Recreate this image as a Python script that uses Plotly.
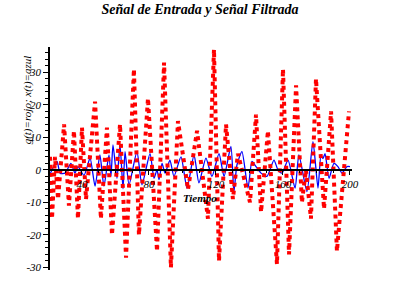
import plotly.graph_objects as go

# Input signal g(t): successive extrema (time, value)
red_t = [20.9, 22.1, 23.9, 25.7, 29.3, 32.2, 35.2, 37.6, 40.0, 42.4, 47.8, 51.3,
         54.9, 57.9, 62.7, 66.3, 71.0, 74.0, 79.4, 84.8, 89.0, 93.1, 97.3, 103.3,
         108.7, 115.2, 118.8, 121.8, 126.0, 130.1, 133.1, 140.3, 143.9, 146.9, 151.0,
         156.4, 160.0, 163.6, 167.8, 171.3, 173.7, 176.7, 179.7, 184.5, 188.7, 192.2, 199.4]
red_v = [4, -15, 4, -9, 14, -11, 12, -15, 13, -9, 21, -15,
         13, -20, 14, -27, 31, -20, 22, -25, 33, -30, 15, -6,
         12, -15, 37, -28, 14, -9, 5, -10, 17, -13, 12,
         -29, 31, -26, 26, -10, 0, -15, 28, -12, 18, -25, 18]

# Filtered signal x(t): extrema
blue_t = [20.3, 25.1, 26.9, 29.9, 33.4, 35.8, 37.6, 41.2, 44.8, 47.8, 50.7, 53.1,
          56.1, 57.3, 58.5, 60.9, 62.7, 64.5, 65.7, 68.1, 72.8, 75.8, 80.6, 83.0,
          84.8, 86.0, 87.8, 89.6, 92.5, 94.9, 99.1, 102.7, 106.9, 109.8, 114.0, 117.6,
          121.8, 124.8, 128.9, 130.7, 132.5, 135.5, 139.1, 141.5, 143.9, 146.9, 150.4,
          154.6, 157.0, 159.4, 163.0, 167.2, 169.5, 174.3, 177.9, 180.9, 182.7, 183.9,
          185.1, 187.5, 190.4, 192.8, 195.2, 198.2, 200.0]
blue_v = [-2, 2.6, -1, -1, 2, -1, 1, -1.7, 3.6, -5, 4.6, -5,
          4.6, -2, 7.7, -2.6, 7.7, -5.8, 5.6, -4.6, 5.6, -4.6, 5, -2.6,
          0, -3, 2, -1, 3, -2, 4, -5.6, 4.6, -4, 3.6, -2,
          5, -2, 7.2, -6.7, 1.5, 5.6, -5.6, 2.6, 1, -1, -2,
          3, 0, -1, 3, -5.6, 4.6, -6.7, 8.7, -5.6, 4.6, 3.5,
          5, -2.6, 2, 1, -1, 1, 1]

x_ticks = [40, 80, 120, 160, 200]
y_ticks = [-30, -20, -10, 0, 10, 20, 30]

title_text = "Señal de Entrada y Señal Filtrada"
x_label = "Tiempo"
y_label = "g(t)=rojo; x(t)=azul"

serif = "Liberation Serif, Times New Roman, serif"

fig = go.Figure()
fig.add_trace(go.Scatter(x=blue_t, y=blue_v, mode="lines",
                         line=dict(color="#0000ff", width=1.3, shape="spline", smoothing=0.6),
                         hoverinfo="skip"))
fig.add_trace(go.Scatter(x=red_t, y=red_v, mode="lines",
                         line=dict(color="#ff0000", width=4, dash="4px,4px"),
                         hoverinfo="skip"))

y_lo, y_hi = -30.8, 37.8
fig.update_layout(
    width=400, height=300,
    margin=dict(l=50, r=48, t=47, b=30),
    paper_bgcolor="white", plot_bgcolor="white",
    showlegend=False,
    title=dict(text=title_text, x=0.5, xanchor="center", y=0.985, yanchor="top",
               font=dict(family=serif, size=14, color="black", weight="bold", style="italic")),
    xaxis=dict(range=[20.9, 201.2], anchor="free", position=(0 - y_lo) / (y_hi - y_lo),
               showline=True, linecolor="black", linewidth=1.5, showgrid=False, zeroline=False,
               tickvals=x_ticks, ticktext=[str(v) for v in x_ticks],
               ticks="outside", ticklen=4, tickcolor="black",
               minor=dict(dtick=10, tick0=0, ticks="outside", ticklen=2, tickcolor="black"),
               tickfont=dict(family=serif, size=11, color="black", style="italic")),
    yaxis=dict(range=[y_lo, y_hi], showline=True, linecolor="black", linewidth=1.5,
               showgrid=False, zeroline=False,
               tickvals=y_ticks, ticktext=[str(v) for v in y_ticks],
               ticks="outside", ticklen=5, tickcolor="black",
               minor=dict(dtick=2, tick0=0, ticks="outside", ticklen=3, tickcolor="black"),
               tickfont=dict(family=serif, size=11, color="black", style="italic")),
    annotations=[
        dict(text=x_label, x=110.4, y=-8.8, xref="x", yref="y", showarrow=False,
             font=dict(family=serif, size=11, color="black", style="italic", weight="bold")),
        dict(text=y_label, x=-0.075, y=(300 - 30 - 100) / 223,
             xref="paper", yref="paper", showarrow=False,
             xanchor="center", yanchor="middle", textangle=-90,
             font=dict(family=serif, size=11, color="black", style="italic")),
    ],
)

fig.write_html("out.html")
